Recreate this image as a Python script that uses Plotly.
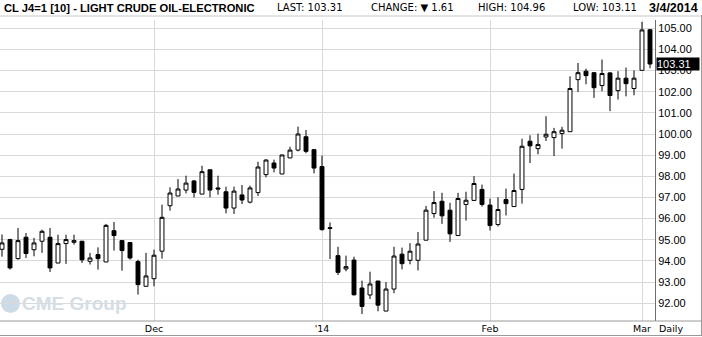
import pandas as pd
import plotly.graph_objects as go

# trading dates (holidays removed)
holidays = ["2013-11-28", "2013-12-25", "2014-01-01", "2014-01-20", "2014-02-17"]
dates = [d for d in pd.bdate_range("2013-11-04", "2014-03-04") if d.strftime("%Y-%m-%d") not in holidays]

opens = [94.55, 95.01, 94.11, 95.12, 94.53, 94.93, 95.12, 93.90, 94.82, 94.88,
         94.93, 93.98, 94.30, 93.95, 95.43, 94.96, 94.87, 93.97, 92.80, 93.16,
         94.46, 96.61, 97.07, 97.35, 97.78, 97.16, 98.31, 97.45, 97.27, 96.50,
         97.12, 96.78, 97.23, 98.08, 98.63, 98.11, 98.87, 99.24, 99.87, 99.26,
         98.46, 95.57, 94.25, 93.62, 94.04, 92.72, 92.39, 93.05, 91.63, 92.67,
         94.32, 94.03, 94.03, 94.98, 96.24, 96.82, 96.40, 95.20, 96.67, 96.86,
         97.38, 96.64, 95.72, 96.90, 96.57, 97.38, 99.66, 99.31, 99.86, 99.83,
         100.02, 100.11, 102.57, 102.97, 102.90, 102.29, 102.89, 102.05, 102.64, 102.15,
         103.01, 104.93]
highs = [95.25, 95.05, 95.56, 95.32, 95.09, 95.48, 95.56, 95.24, 95.24, 95.24,
         94.95, 94.38, 94.64, 95.75, 95.84, 94.96, 94.87, 94.06, 94.38, 94.53,
         96.66, 97.48, 97.87, 98.03, 97.83, 98.50, 98.31, 98.03, 97.51, 97.51,
         97.59, 97.56, 98.69, 98.80, 98.79, 99.01, 99.40, 100.35, 100.19, 99.29,
         98.98, 95.82, 94.67, 94.25, 94.20, 93.07, 93.49, 93.05, 93.00, 94.67,
         94.63, 94.84, 95.37, 96.60, 97.30, 97.22, 96.75, 97.22, 97.27, 98.01,
         97.61, 96.95, 97.01, 97.42, 98.13, 99.78, 99.94, 100.02, 100.84, 100.29,
         100.34, 102.73, 103.36, 103.09, 102.90, 103.52, 102.92, 102.97, 103.14, 103.01,
         105.30, 104.96]
lows = [94.20, 93.59, 94.06, 94.14, 94.22, 94.38, 93.48, 93.90, 93.86, 94.77,
        93.90, 93.83, 93.59, 93.95, 94.49, 93.54, 94.06, 92.41, 92.80, 92.80,
        94.11, 96.38, 97.07, 97.19, 97.00, 97.16, 97.00, 97.13, 96.25, 96.22,
        96.69, 96.72, 97.07, 97.95, 98.19, 98.11, 98.87, 99.18, 99.09, 98.14,
        95.43, 94.09, 93.33, 93.51, 92.36, 91.49, 92.20, 91.62, 91.63, 92.47,
        93.60, 93.84, 93.55, 94.98, 96.04, 95.75, 94.90, 95.20, 95.91, 96.86,
        96.57, 95.44, 95.63, 96.15, 96.57, 96.71, 98.63, 99.04, 99.67, 98.96,
        99.31, 100.11, 101.99, 102.35, 101.71, 102.02, 101.08, 101.63, 101.78, 101.83,
        103.01, 103.11]
closes = [94.85, 93.67, 94.96, 94.35, 94.85, 95.40, 93.67, 94.82, 95.01, 94.96,
          94.05, 94.14, 94.11, 95.68, 95.20, 94.49, 94.14, 92.88, 93.29, 94.27,
          96.06, 97.21, 97.40, 97.68, 97.24, 98.22, 97.35, 97.40, 96.50, 97.30,
          96.88, 97.45, 98.44, 98.77, 98.39, 99.01, 99.24, 100.00, 99.18, 98.39,
          95.48, 95.54, 93.46, 93.73, 92.40, 91.85, 92.91, 91.91, 92.67, 94.23,
          93.87, 94.46, 94.80, 96.40, 96.76, 96.13, 95.28, 96.95, 96.87, 97.66,
          96.67, 95.67, 96.43, 96.71, 97.33, 99.42, 99.44, 99.50, 99.99, 100.11,
          100.18, 102.15, 102.90, 102.76, 102.19, 102.86, 101.82, 102.64, 102.38, 102.64,
          104.92, 103.31]

month_ticks = ["2013-12-02", "2014-01-02", "2014-02-03", "2014-03-03"]
month_labels = ["Dec", "'14", "Feb", "Mar"]
y_ticks = list(range(92, 106))

last_price = 103.31
header = {"last": "103.31", "change": "1.61", "high": "104.96", "low": "103.11", "date": "3/4/2014"}
title = "CL J4=1 [10] - LIGHT CRUDE OIL-ELECTRONIC"

date_str = [d.strftime("%Y-%m-%d") for d in dates]
xidx = list(range(len(date_str)))
tick_idx = [date_str.index(d) for d in month_ticks]

fig = go.Figure(go.Candlestick(
    x=xidx, open=opens, high=highs, low=lows, close=closes,
    increasing=dict(fillcolor="white", line=dict(color="black", width=1)),
    decreasing=dict(fillcolor="black", line=dict(color="black", width=1)),
    whiskerwidth=0, hoverinfo="skip",
))

W, H = 702, 337
L, R, T, B = 0, 47, 20, 16
pw, ph = W - L - R, H - T - B

def px(x):
    return (x - L) / pw

def py(y):
    return (H - B - y) / ph

font_small = dict(family="DejaVu Sans", size=10, color="black")
font_axis = dict(family="DejaVu Sans", size=9.5, color="black")

fig.update_layout(
    width=W, height=H, margin=dict(l=L, r=R, t=T, b=B),
    paper_bgcolor="white", plot_bgcolor="white", showlegend=False,
    boxgap=0.3,
    xaxis=dict(range=[-0.25, 81.625], rangeslider=dict(visible=False),
               tickvals=tick_idx, ticktext=month_labels, ticks="",
               showgrid=True, gridcolor="#d9d9d9", gridwidth=1,
               tickfont=font_axis, zeroline=False, showline=False),
    yaxis=dict(range=[91.16, 105.39], side="right", tickvals=y_ticks,
               ticktext=[f"{v:.2f}" for v in y_ticks], ticks="",
               showgrid=True, gridcolor="#d9d9d9", gridwidth=1,
               tickfont=dict(family="Liberation Sans", size=11, color="black"),
               showline=True, linecolor="#6e6e6e", linewidth=1,
               zeroline=False),
)

shapes = [
    dict(type="line", xref="paper", yref="paper", x0=px(0), x1=px(701), y0=0, y1=0,
         line=dict(color="#9a9a9a", width=1)),
    dict(type="line", xref="paper", yref="paper", x0=px(0), x1=px(701), y0=py(335.5), y1=py(335.5),
         line=dict(color="#9a9a9a", width=1)),
    dict(type="line", xref="paper", yref="paper", x0=px(701.5), x1=px(701.5), y0=py(15), y1=py(336),
         line=dict(color="#9a9a9a", width=1)),
    dict(type="line", xref="paper", yref="paper", x0=px(0), x1=px(701), y0=py(16), y1=py(16),
         line=dict(color="#c8c8c8", width=1)),
    dict(type="circle", xref="paper", yref="paper", x0=px(1), x1=px(20), y0=py(313), y1=py(294),
         fillcolor="#cddbe7", line=dict(width=0), layer="below"),
]
fig.update_layout(shapes=shapes)

hy = py(8)
ann = [
    dict(text="<b>" + title + "</b>", x=px(2), y=hy, xanchor="left",
         font=dict(family="Liberation Sans", size=11.2, color="black")),
    dict(text="LAST: " + header["last"], x=px(275), y=hy, xanchor="left", font=font_small),
    dict(text="CHANGE: \u25bc " + header["change"], x=px(369), y=hy, xanchor="left", font=font_small),
    dict(text="HIGH: " + header["high"], x=px(476), y=hy, xanchor="left", font=font_small),
    dict(text="LOW: " + header["low"], x=px(571), y=hy, xanchor="left", font=font_small),
    dict(text="<b>" + header["date"] + "</b>", x=px(700), y=hy, xanchor="right",
         font=dict(family="Liberation Sans", size=12.5, color="black")),
    dict(text="Daily", x=px(657), y=py(328), xanchor="left", font=font_axis),
    dict(text="<b>CME Group</b>", x=px(20), y=py(303), xanchor="left",
         font=dict(family="Liberation Sans", size=19, color="#d5dde5")),
    dict(text=f"{last_price:.2f}", x=px(656), y=last_price, yref="y", xanchor="left",
         bgcolor="black", borderpad=0, width=42, align="left",
         font=dict(family="Liberation Sans", size=11, color="white")),
]
for a in ann:
    a.setdefault("xref", "paper")
    a.setdefault("yref", "paper")
    a["showarrow"] = False
    a["yanchor"] = "middle"
fig.update_layout(annotations=ann)

fig.write_html("out.html")
